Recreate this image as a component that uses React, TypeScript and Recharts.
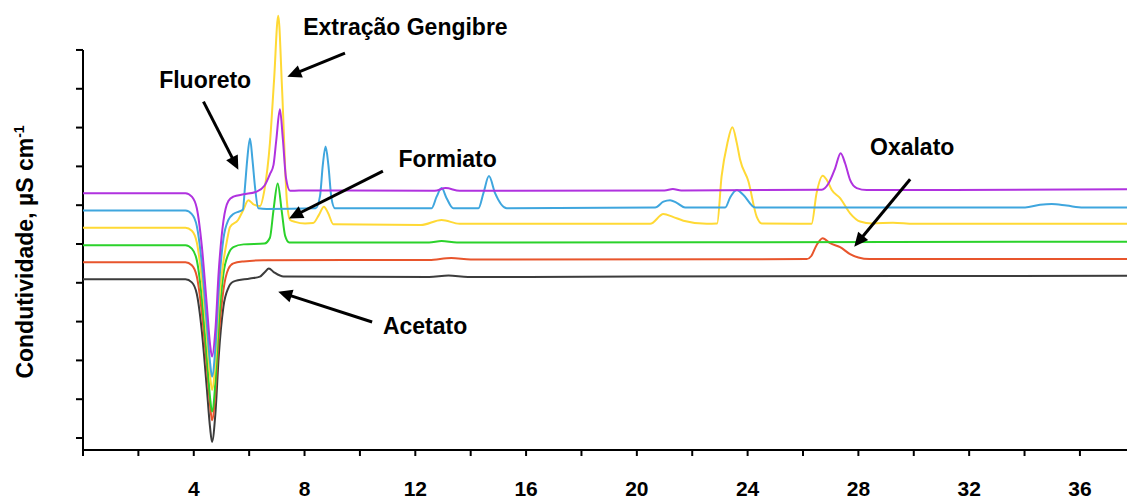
import React from 'react';
import { LineChart, Line, XAxis, YAxis, ReferenceLine, ReferenceDot } from 'recharts';

// Retention time ticks (min)
const xTicks = [0, 2, 4, 6, 8, 10, 12, 14, 16, 18, 20, 22, 24, 26, 28, 30, 32, 34, 36];
const yTicks = [0, 10, 20, 30, 40, 50, 60, 70, 80, 90, 100];

// [time, conductivity (arb. units)] for each chromatogram
const black: [number, number][] = [
  [0, 40.9], [3.7, 40.9], [3.93, 40.1], [4.11, 37.1], [4.29, 27.6], [4.47, 12.9], [4.59, 2.6], [4.66, -1.0],
  [4.78, 6.2], [4.9, 20.9], [5.07, 33.8], [5.25, 38.7], [5.43, 40.3], [6.03, 41.1], [6.39, 41.6], [6.57, 42.8],
  [6.71, 43.7], [6.9, 42.7], [7.24, 41.6], [12.5, 41.5], [13.2, 41.9], [13.9, 41.5], [20, 41.6], [37.7, 41.8],
];

const red: [number, number][] = [
  [0, 45.3], [3.7, 45.3], [3.93, 44.5], [4.11, 41.6], [4.29, 32.4], [4.47, 18.3], [4.59, 8.3], [4.66, 4.6],
  [4.78, 11.6], [4.9, 25.8], [5.07, 38.1], [5.25, 43.6], [5.43, 45.0], [5.8, 45.5], [6.5, 45.8], [12.5, 45.9],
  [13.3, 46.4], [14.0, 46.0], [26.13, 46.1], [26.3, 46.9], [26.49, 49.7], [26.71, 51.5], [26.98, 50.2],
  [27.34, 49.2], [27.7, 47.4], [28.0, 46.5], [28.4, 46.1], [37.7, 46.1],
];

const green: [number, number][] = [
  [0, 49.7], [3.7, 49.7], [3.93, 48.8], [4.11, 45.8], [4.29, 36.1], [4.47, 20.9], [4.59, 10.3], [4.66, 6.8],
  [4.78, 14.2], [4.9, 29.1], [5.07, 42.3], [5.25, 47.4], [5.43, 49.2], [5.8, 49.9], [6.55, 50.1], [6.75, 51.6],
  [6.88, 58.8], [7.03, 65.6], [7.18, 58.3], [7.3, 52.1], [7.45, 50.4], [12.5, 50.4], [12.95, 50.8], [13.5, 50.4],
  [37.7, 50.6],
];

const yellow: [number, number][] = [
  [0, 54.2], [3.7, 54.2], [3.93, 53.4], [4.11, 50.4], [4.29, 40.9], [4.47, 26.3], [4.59, 16.0], [4.66, 12.4],
  [4.78, 19.6], [4.9, 34.3], [5.07, 45.4], [5.19, 50.5], [5.31, 54.4], [5.6, 56.2], [5.79, 58.8], [5.97, 61.3],
  [6.14, 60.3], [6.39, 59.8], [6.55, 63.9], [6.75, 76.0], [6.9, 92.3], [7.05, 108.8], [7.19, 89.7], [7.36, 61.3],
  [7.48, 56.2], [7.66, 55.7], [8.02, 55.3], [8.31, 55.4], [8.52, 57.5], [8.7, 59.6], [8.85, 58.0], [9.04, 55.1],
  [12.2, 54.9], [12.95, 56.2], [13.6, 55.2], [20.48, 55.2], [20.96, 57.7], [21.3, 57.0], [21.68, 56.0],
  [22.52, 55.2], [22.9, 55.3], [23.06, 67.4], [23.27, 76.0], [23.45, 80.1], [23.61, 76.0], [23.73, 71.7],
  [24.03, 66.1], [24.33, 57.0], [24.51, 55.3], [26.31, 55.2], [26.49, 63.1], [26.71, 67.6], [26.86, 66.5],
  [27.04, 63.9], [27.34, 61.8], [27.7, 57.9], [28.06, 55.8], [28.5, 55.3], [29.25, 55.5], [30, 55.2], [37.7, 55.2],
];

const blue: [number, number][] = [
  [0, 58.6], [3.7, 58.6], [3.93, 57.7], [4.11, 54.6], [4.29, 45.0], [4.47, 29.6], [4.59, 19.3], [4.66, 15.8],
  [4.78, 23.2], [4.9, 38.1], [5.07, 51.3], [5.25, 56.2], [5.43, 57.7], [5.65, 58.4], [5.77, 58.8], [5.85, 64.8],
  [5.93, 71.7], [6.03, 77.2], [6.12, 71.7], [6.21, 64.8], [6.33, 59.2], [6.63, 59.0], [8.4, 59.2], [8.56, 62.4],
  [8.66, 70.4], [8.76, 75.1], [8.86, 70.4], [8.97, 61.9], [9.1, 59.2], [12.59, 59.2], [12.77, 62.2], [12.95, 64.4],
  [13.13, 61.8], [13.37, 59.2], [14.28, 59.2], [14.46, 63.1], [14.66, 67.5], [14.88, 63.1], [15.3, 59.2],
  [20.66, 59.4], [20.96, 60.9], [21.2, 61.3], [21.44, 60.6], [21.74, 59.4], [23.19, 59.4], [23.37, 62.0],
  [23.61, 63.9], [23.85, 62.6], [24.27, 59.4], [34.02, 59.4], [34.56, 60.1], [34.98, 60.3], [35.52, 59.9],
  [36.12, 59.4], [37.7, 59.4],
];

const purple: [number, number][] = [
  [0, 63.1], [3.7, 63.1], [3.93, 62.2], [4.11, 59.2], [4.29, 49.5], [4.47, 34.3], [4.59, 24.0], [4.66, 21.0],
  [4.78, 27.8], [4.9, 42.8], [5.07, 55.9], [5.25, 61.1], [5.43, 62.2], [5.8, 62.8], [6.27, 63.5], [6.55, 65.0],
  [6.75, 68.0], [6.88, 70.4], [6.98, 76.8], [7.11, 84.7], [7.22, 76.8], [7.33, 67.0], [7.48, 63.7], [7.8, 63.8],
  [12.7, 63.7], [13.1, 64.4], [13.6, 63.7], [21.0, 63.8], [21.3, 64.2], [21.6, 63.8], [26.68, 64.0], [26.92, 65.6],
  [27.16, 69.5], [27.36, 73.4], [27.52, 70.8], [27.7, 66.5], [27.94, 64.4], [28.3, 63.9], [37.7, 64.1],
];

const seriesNames = ['Branco', 'Padrão 1', 'Padrão 2', 'Extração Gengibre', 'Padrão 3', 'Padrão 4'];
const seriesColors = ['#3c3c3c', '#e8552c', '#2bd22b', '#ffd935', '#3fa6de', '#b032df'];
const seriesPoints = [black, red, green, yellow, blue, purple];

// annotations: label position and arrow tail/head, in data coordinates
const annotationTexts = ['Extração Gengibre', 'Fluoreto', 'Formiato', 'Acetato', 'Oxalato'];
const annotationLabelAt: [number, number][] = [[7.95, 103.9], [2.75, 90.1], [11.39, 69.9], [10.83, 26.8], [28.42, 72.9]];
const annotationTail: [number, number][] = [[9.46, 99.2], [4.35, 86.7], [10.83, 68.8], [10.44, 29.9], [29.87, 66.7]];
const annotationHead: [number, number][] = [[7.38, 93.1], [5.61, 69.1], [7.44, 56.6], [7.05, 37.7], [27.85, 49.3]];

const FONT = '"Liberation Sans", Arial, Helvetica, sans-serif';

const Arrow = (p: any) => {
  const { x1, y1, x2, y2 } = p;
  const dx = x2 - x1;
  const dy = y2 - y1;
  const len = Math.hypot(dx, dy) || 1;
  const ux = dx / len;
  const uy = dy / len;
  const hl = 14;
  const hw = 6.5;
  const bx = x2 - ux * hl;
  const by = y2 - uy * hl;
  const pts = `${x2},${y2} ${bx - uy * hw},${by + ux * hw} ${bx + uy * hw},${by - ux * hw}`;
  return (
    <g>
      <line x1={x1} y1={y1} x2={bx + ux * 2} y2={by + uy * 2} stroke="#000" strokeWidth={3} />
      <polygon points={pts} fill="#000" />
    </g>
  );
};

const makeText = (text: string) => (p: any) => (
  <text x={p.cx} y={p.cy} fontSize={23} fontWeight="bold" fontFamily={FONT} fill="#000">
    {text}
  </text>
);

const yLabel = () => (
  <text
    x={33}
    y={252}
    transform="rotate(-90 33 252)"
    textAnchor="middle"
    fontSize={23}
    fontWeight="bold"
    fontFamily={FONT}
    fill="#000"
  >
    Condutividade, µS cm
    <tspan dy={-9} fontSize={14}>-1</tspan>
  </text>
);

export default function App() {
  return (
    <div style={{ position: 'absolute', left: 0, top: 0, width: 1127, height: 500, background: '#fff' }}>
      <LineChart width={1127} height={500} margin={{ top: 10, right: 0, bottom: 0, left: 0 }}>
        <XAxis
          type="number"
          dataKey="t"
          domain={[0, 37.7]}
          ticks={xTicks}
          allowDataOverflow
          tickSize={6}
          tickMargin={25}
          height={50}
          axisLine={{ stroke: '#000', strokeWidth: 2 }}
          tickLine={{ stroke: '#000', strokeWidth: 2 }}
          tickFormatter={(v: number) => (v > 0 && v % 4 === 0 ? String(v) : '')}
          tick={{ fill: '#000', fontSize: 21, fontWeight: 'bold', fontFamily: FONT }}
          interval={0}
        />
        <YAxis
          type="number"
          domain={[-3.09, 110.3]}
          ticks={yTicks}
          allowDataOverflow
          width={83}
          tickSize={7}
          axisLine={false}
          tickLine={{ stroke: '#000', strokeWidth: 2 }}
          tickFormatter={() => ''}
          tick={{ fill: '#000', fontSize: 10 }}
          label={yLabel}
          interval={0}
        />
        <ReferenceLine
          segment={[{ x: 0, y: -3.09 }, { x: 0, y: 100 }]}
          stroke="#000"
          strokeWidth={2}
          ifOverflow="visible"
        />
        {seriesPoints.map((pts, i) => (
          <Line
            key={seriesNames[i]}
            name={seriesNames[i]}
            data={pts.map(([t, v]) => ({ t, v }))}
            dataKey="v"
            type="monotone"
            stroke={seriesColors[i]}
            strokeWidth={2}
            dot={false}
            activeDot={false}
            isAnimationActive={false}
          />
        ))}
        {annotationTexts.map((txt, i) => (
          <ReferenceLine
            key={'a' + i}
            segment={[
              { x: annotationTail[i][0], y: annotationTail[i][1] },
              { x: annotationHead[i][0], y: annotationHead[i][1] },
            ]}
            shape={Arrow}
            ifOverflow="visible"
          />
        ))}
        {annotationTexts.map((txt, i) => (
          <ReferenceDot
            key={'t' + i}
            x={annotationLabelAt[i][0]}
            y={annotationLabelAt[i][1]}
            r={0}
            shape={makeText(txt)}
            ifOverflow="visible"
          />
        ))}
      </LineChart>
    </div>
  );
}
